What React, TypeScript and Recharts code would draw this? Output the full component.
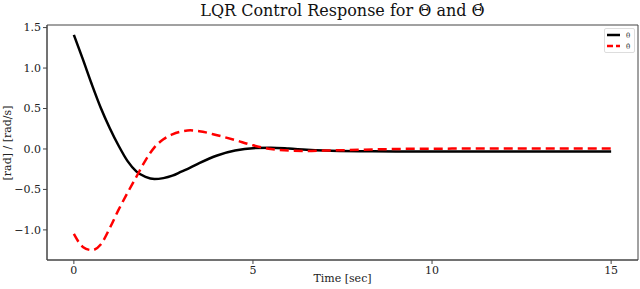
import React from "react";
import { LineChart, Line, XAxis, YAxis, ReferenceArea } from "recharts";

const times = [0, 0.25, 0.5, 0.75, 1, 1.25, 1.5, 1.75, 2, 2.25, 2.5, 2.75, 3, 3.25, 3.5, 4, 4.5, 5, 5.5, 6, 6.5, 7, 8, 9, 10, 11, 12, 13, 14, 15];
const theta = [1.41, 1.11, 0.8, 0.51, 0.26, 0.04, -0.15, -0.28, -0.345, -0.372, -0.36, -0.33, -0.28, -0.23, -0.175, -0.08, -0.02, 0.01, 0.015, 0.005, -0.01, -0.02, -0.028, -0.03, -0.03, -0.03, -0.03, -0.03, -0.03, -0.03];
const thetaDot = [-1.05, -1.21, -1.25, -1.18, -0.98, -0.75, -0.54, -0.34, -0.14, 0.02, 0.12, 0.18, 0.215, 0.23, 0.22, 0.17, 0.11, 0.045, 0.0, -0.02, -0.025, -0.02, -0.01, 0.0, 0.003, 0.005, 0.005, 0.005, 0.005, 0.005];
const xTicks = [0, 5, 10, 15];
const yTicks = [-1.0, -0.5, 0.0, 0.5, 1.0, 1.5];

const data = times.map((t, i) => ({ t, theta: theta[i], thetaDot: thetaDot[i] }));

const FONT = "'DejaVu Serif', serif";
const X_DOMAIN: [number, number] = [-0.75, 15.75];
const Y_DOMAIN: [number, number] = [-1.372, 1.532];
const fmtY = (v: number) => (v < 0 ? "\u2212" + Math.abs(v).toFixed(1) : v.toFixed(1));

export default function App() {
  const tickStyle = { fontFamily: FONT, fontSize: 11, fill: "#222" };
  return (
    <div style={{ position: "absolute", left: 0, top: 0, width: 640, height: 289, background: "#fff" }}>
      <LineChart width={640} height={289} data={data} margin={{ top: 25, right: 2, left: 0, bottom: 0 }}>
        <XAxis
          xAxisId="b"
          dataKey="t"
          type="number"
          domain={X_DOMAIN}
          ticks={xTicks}
          allowDataOverflow
          height={29}
          tickSize={4}
          stroke="#444"
          tick={tickStyle}
        />
        <YAxis
          yAxisId="l"
          type="number"
          domain={Y_DOMAIN}
          ticks={yTicks}
          allowDataOverflow
          width={47}
          tickSize={4}
          stroke="#444"
          tick={tickStyle}
          tickFormatter={fmtY}
        />
        <ReferenceArea
          xAxisId="b"
          yAxisId="l"
          x1={X_DOMAIN[0]}
          x2={X_DOMAIN[1]}
          y1={Y_DOMAIN[0]}
          y2={Y_DOMAIN[1]}
          fill="none"
          fillOpacity={0}
          stroke="#444"
          strokeWidth={1}
          ifOverflow="visible"
        />
        <Line xAxisId="b" yAxisId="l" type="monotone" dataKey="theta" stroke="#000" strokeWidth={2.5} dot={false} isAnimationActive={false} />
        <Line xAxisId="b" yAxisId="l" type="monotone" dataKey="thetaDot" stroke="#ff0000" strokeWidth={2.5} strokeDasharray="9 5" dot={false} isAnimationActive={false} />
      </LineChart>
      <div style={{ position: "absolute", left: 47, width: 591, top: 1, textAlign: "center", fontFamily: FONT, fontSize: 16, color: "#111", whiteSpace: "nowrap" }}>
        LQR Control Response for Θ and Θ̇
      </div>
      <div style={{ position: "absolute", left: 47, width: 591, top: 272, textAlign: "center", fontFamily: FONT, fontSize: 11, color: "#222", whiteSpace: "nowrap" }}>
        Time [sec]
      </div>
      <div style={{ position: "absolute", left: 7, top: 143, width: 0, height: 0 }}>
        <div style={{ position: "absolute", transform: "translate(-50%, -50%) rotate(-90deg)", fontFamily: FONT, fontSize: 11, color: "#222", whiteSpace: "nowrap" }}>
          [rad] / [rad/s]
        </div>
      </div>
      <div style={{ position: "absolute", left: 604, top: 28, width: 31, height: 25, border: "1px solid #ddd", borderRadius: 2, background: "#fff", boxSizing: "border-box" }}>
        <svg width={31} height={25} style={{ position: "absolute", left: -1, top: -1 }}>
          <line x1={3} y1={7} x2={16} y2={7} stroke="#000" strokeWidth={2.5} />
          <line x1={3} y1={18} x2={16} y2={18} stroke="#ff0000" strokeWidth={2.5} strokeDasharray="6 3" />
          <text x={22} y={9.5} fontFamily={FONT} fontSize={7} fill="#333">θ</text>
          <text x={22} y={20.5} fontFamily={FONT} fontSize={7} fill="#333">θ̇</text>
        </svg>
      </div>
    </div>
  );
}
